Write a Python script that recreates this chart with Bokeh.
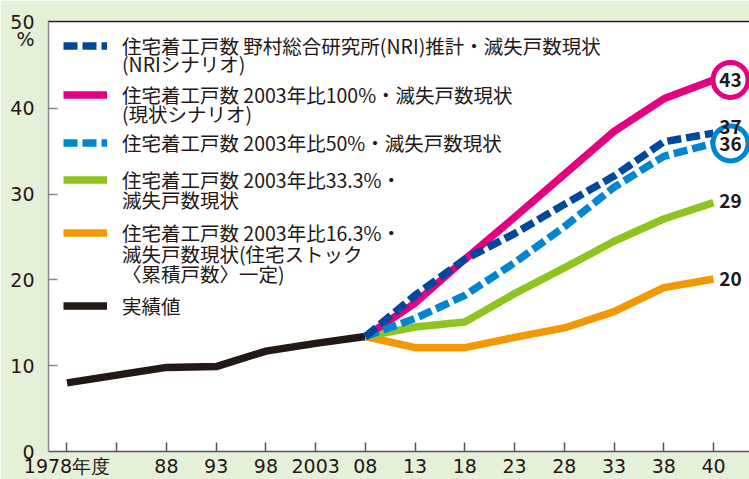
from bokeh.plotting import figure
from bokeh.models import (Range1d, FixedTicker, Legend, LegendItem, Span,
                          ColumnDataSource)
from bokeh.transform import dodge
from bokeh.core.properties import value
from bokeh.embed import file_html
from bokeh.resources import INLINE

# ---------------- data ----------------
years = ["1978", "83", "88", "93", "98", "2003", "08", "13", "18", "23", "28", "33", "38", "40"]
tick_labels = ["1978年度", "", "88", "93", "98", "2003", "08", "13", "18", "23", "28", "33", "38", "40"]
actual_years = ["1978", "83", "88", "93", "98", "2003", "08"]
actual = [8.0, 8.9, 9.8, 9.9, 11.7, 12.6, 13.4]
future_years = ["08", "13", "18", "23", "28", "33", "38", "40"]
nri = [13.4, 18.2, 22.4, 25.4, 28.8, 32.1, 36.1, 37.1]
pct100 = [13.4, 17.3, 22.4, 27.3, 32.3, 37.3, 41.1, 43.3]
pct50 = [13.4, 15.5, 18.2, 22.0, 26.2, 30.8, 34.4, 35.9]
pct33 = [13.4, 14.5, 15.1, 18.4, 21.4, 24.5, 27.1, 29.0]
pct16 = [13.4, 12.1, 12.1, 13.3, 14.4, 16.3, 19.1, 20.1]
y_ticks = [0, 10, 20, 30, 40, 50]
unit_label = "%"

series_names = [
    ["住宅着工戸数 野村総合研究所(NRI)推計・滅失戸数現状", "(NRIシナリオ)"],
    ["住宅着工戸数 2003年比100%・滅失戸数現状", "(現状シナリオ)"],
    ["住宅着工戸数 2003年比50%・滅失戸数現状"],
    ["住宅着工戸数 2003年比33.3%・", "滅失戸数現状"],
    ["住宅着工戸数 2003年比16.3%・", "滅失戸数現状(住宅ストック", "〈累積戸数〉一定)"],
    ["実績値"],
]
end_labels = ["37", "43", "36", "29", "20"]

# ---------------- style ----------------
C_NRI = "#00479d"
C_100 = "#e4007f"
C_50 = "#0086d1"
C_33 = "#8fc31f"
C_16 = "#f39800"
C_ACT = "#231815"
BG = "#e5f0d8"
TXT = "#231815"
JP = "Noto Sans CJK JP"
AXF = "DejaVu Sans"

W, H_ = 749, 479
TOP, BOTTOM = 20, 26
FH = H_ - TOP - BOTTOM

pos = {y: i for i, y in enumerate(years)}
ax = [pos[y] for y in actual_years]
fx = [pos[y] for y in future_years]

p = figure(width=W, height=H_, x_range=Range1d(-0.372, 13.724),
           y_range=Range1d(0, 50.23), output_backend="svg", toolbar_location=None,
           min_border_left=48, min_border_right=0, min_border_top=TOP, min_border_bottom=BOTTOM)
p.background_fill_color = "white"
p.border_fill_color = BG
p.outline_line_color = None
p.grid.visible = False

LW = 7.5
r_act = p.line(ax, actual, line_color=C_ACT, line_width=LW, line_cap="butt")
r_16 = p.line(fx, pct16, line_color=C_16, line_width=LW)
r_33 = p.line(fx, pct33, line_color=C_33, line_width=LW)
r_100 = p.line(fx, pct100, line_color=C_100, line_width=LW)
r_50 = p.line(fx, pct50, line_color=C_50, line_width=LW, line_dash="14 5", line_cap="butt")
r_nri = p.line(fx, nri, line_color=C_NRI, line_width=LW, line_dash="14 5", line_cap="butt")

# end rings and labels
last = pos[future_years[-1]]
ring_src = ColumnDataSource(dict(x=[last, last], y=[pct100[-1], pct50[-1]], c=[C_100, C_50]))
p.scatter(x=dodge("x", 0.342, range=p.x_range), y="y", source=ring_src, size=35,
          fill_color="white", line_color="c", line_width=5)
lab_src = ColumnDataSource(dict(x=[last] * 5,
                                y=[nri[-1], pct100[-1], pct50[-1], pct33[-1], pct16[-1]],
                                t=end_labels, dy=[-6, 0, 1, -2, 0]))
p.text(x=dodge("x", 0.342, range=p.x_range), y="y", text="t", source=lab_src, y_offset="dy",
       text_align="center", text_baseline="middle", text_font=value(JP),
       text_font_size="19px", text_font_style="bold", text_color=TXT)

# axes
xa = p.xaxis[0]
xa.ticker = FixedTicker(ticks=list(range(len(years))))
xa.major_label_overrides = {i: t for i, t in enumerate(tick_labels)}
ya = p.yaxis[0]
# unit "%" printed under the top value as an extra (tickless) label
unit_pos = 48.1
ya.ticker = FixedTicker(ticks=y_ticks + [unit_pos], minor_ticks=y_ticks[1:-1])
ya.major_label_overrides = {unit_pos: unit_label}
for a, col, std in ((xa, "#555555", 3), (ya, "#888888", 14)):
    a.axis_line_color = col
    a.axis_line_width = 1.5
    a.major_tick_line_color = col
    a.major_tick_line_width = 1.5
    a.major_tick_in = 9
    a.major_tick_out = 0
    a.minor_tick_line_color = None
    a.major_label_standoff = std
    a.major_label_text_font = AXF
    a.major_label_text_font_size = "19px"
    a.major_label_text_color = TXT
# y ticks are drawn by the minor ticks so the "%" label has no tick mark
ya.major_tick_line_color = None
ya.minor_tick_line_color = "#888888"
ya.minor_tick_line_width = 1.5
ya.minor_tick_in = 9
ya.minor_tick_out = 0

p.add_layout(Span(location=50.12, dimension="width", line_color="#231815", line_width=1.8))

# legend: one single-row legend per text line, placed at the original line positions
renderers = [r_nri, r_100, r_50, r_33, r_16, r_act]
row_y = [[48, 66], [96.7, 116], [145], [181.7, 201.7], [235, 256, 276], [307.5]]
ROWH = 28.2   # row height Bokeh gives the 19.5px CJK label font
for rend, names, ys in zip(renderers, series_names, row_y):
    for k, (name, cy) in enumerate(zip(names, ys)):
        r = rend if k == 0 else p.line(x=[], y=[], line_alpha=0)
        leg = Legend(items=[LegendItem(label=name, renderers=[r])],
                     location=(15, FH - (cy - TOP + ROWH / 2)),
                     glyph_width=44, glyph_height=19, label_height=19, spacing=0,
                     label_standoff=15, padding=0, margin=0,
                     border_line_alpha=0, background_fill_alpha=0,
                     label_text_font=JP, label_text_font_size="19.5px", label_text_color=TXT)
        p.add_layout(leg)

open("out.html", "w").write(file_html(p, INLINE))
